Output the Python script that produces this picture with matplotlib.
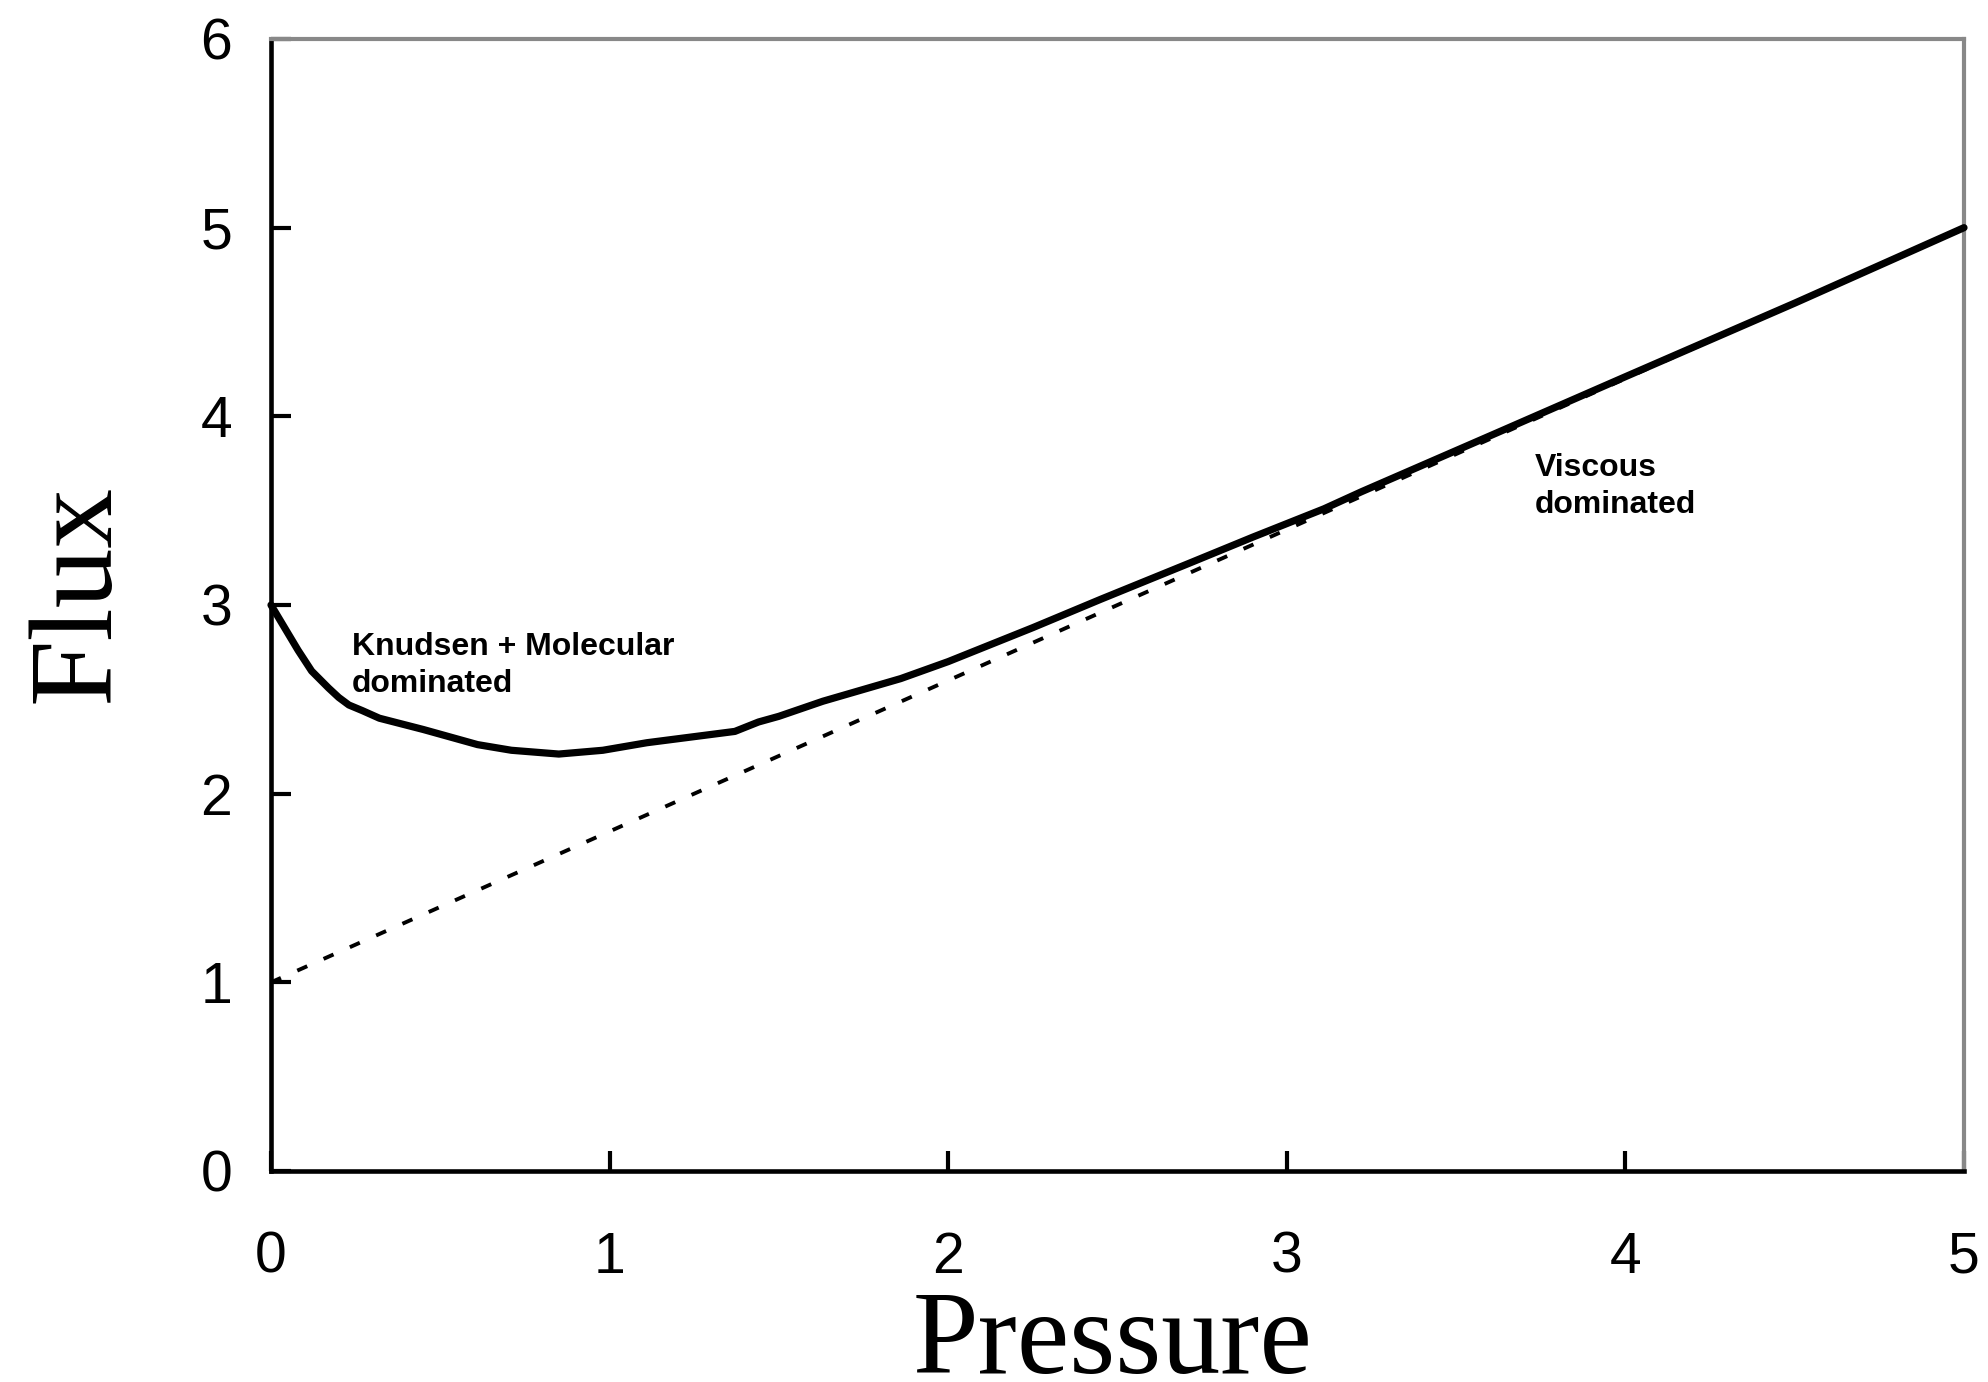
import numpy as np
import matplotlib.pyplot as plt

# data
pressure = [0, 0.04, 0.08, 0.12, 0.17, 0.20, 0.23, 0.27, 0.32, 0.45, 0.61, 0.71,
            0.85, 0.98, 1.11, 1.24, 1.37, 1.44, 1.50, 1.63, 1.86, 2.0, 2.25, 2.45,
            2.71, 2.9, 3.11, 3.22, 3.63, 4.0, 4.5, 5.0]
flux_total = [3.0, 2.88, 2.76, 2.65, 2.56, 2.51, 2.47, 2.44, 2.40, 2.34, 2.26, 2.23,
              2.21, 2.23, 2.27, 2.30, 2.33, 2.38, 2.41, 2.49, 2.61, 2.70, 2.88, 3.03,
              3.22, 3.36, 3.51, 3.60, 3.92, 4.21, 4.60, 5.0]

pressure_visc = [0, 1, 2, 3, 4, 5]
flux_visc = [1.0, 1.8, 2.6, 3.4, 4.2, 5.0]

xticks = [0, 1, 2, 3, 4, 5]
yticks = [0, 1, 2, 3, 4, 5, 6]

fig = plt.figure(figsize=(19.88, 13.82), dpi=100)
ax = fig.add_axes([271/1988, 1 - 1171/1382, (1964 - 271)/1988, (1171 - 39)/1382])

ax.plot(pressure_visc, flux_visc, color='black', lw=2.8,
        linestyle=(0, (2.8, 4.6)), zorder=2)
ax.plot(pressure, flux_total, color='black', lw=5.2,
        solid_capstyle='round', solid_joinstyle='round', clip_on=False, zorder=3)

ax.set_xlim(0, 5)
ax.set_ylim(0, 6)
ax.set_xticks(xticks)
ax.set_yticks(yticks)

for s in ['left', 'bottom']:
    ax.spines[s].set_color('black')
    ax.spines[s].set_linewidth(3.3)
for s in ['top', 'right']:
    ax.spines[s].set_color('#888888')
    ax.spines[s].set_linewidth(3.0)

ax.tick_params(direction='in', length=14.4, width=3.0, color='black',
               labelsize=41, top=False, right=False)
ax.tick_params(axis='y', pad=28)
ax.tick_params(axis='x', pad=43)
for lab in ax.get_xticklabels() + ax.get_yticklabels():
    lab.set_family('Liberation Sans')

ax.set_xlabel('Pressure', family='Liberation Serif', fontsize=85)
ax.set_ylabel('Flux', family='Liberation Serif', fontsize=86)
ax.xaxis.set_label_coords(0.497, -0.106)
ax.yaxis.set_label_coords(-0.081, 0.51)

ax.text(0.239, 2.856, 'Knudsen + Molecular\ndominated', ha='left', va='top',
        family='Liberation Sans', fontweight='bold', fontsize=23, linespacing=1.3)
ax.text(3.733, 3.805, 'Viscous\ndominated', ha='left', va='top',
        family='Liberation Sans', fontweight='bold', fontsize=23, linespacing=1.3)

fig.savefig('out.png', dpi=100)
